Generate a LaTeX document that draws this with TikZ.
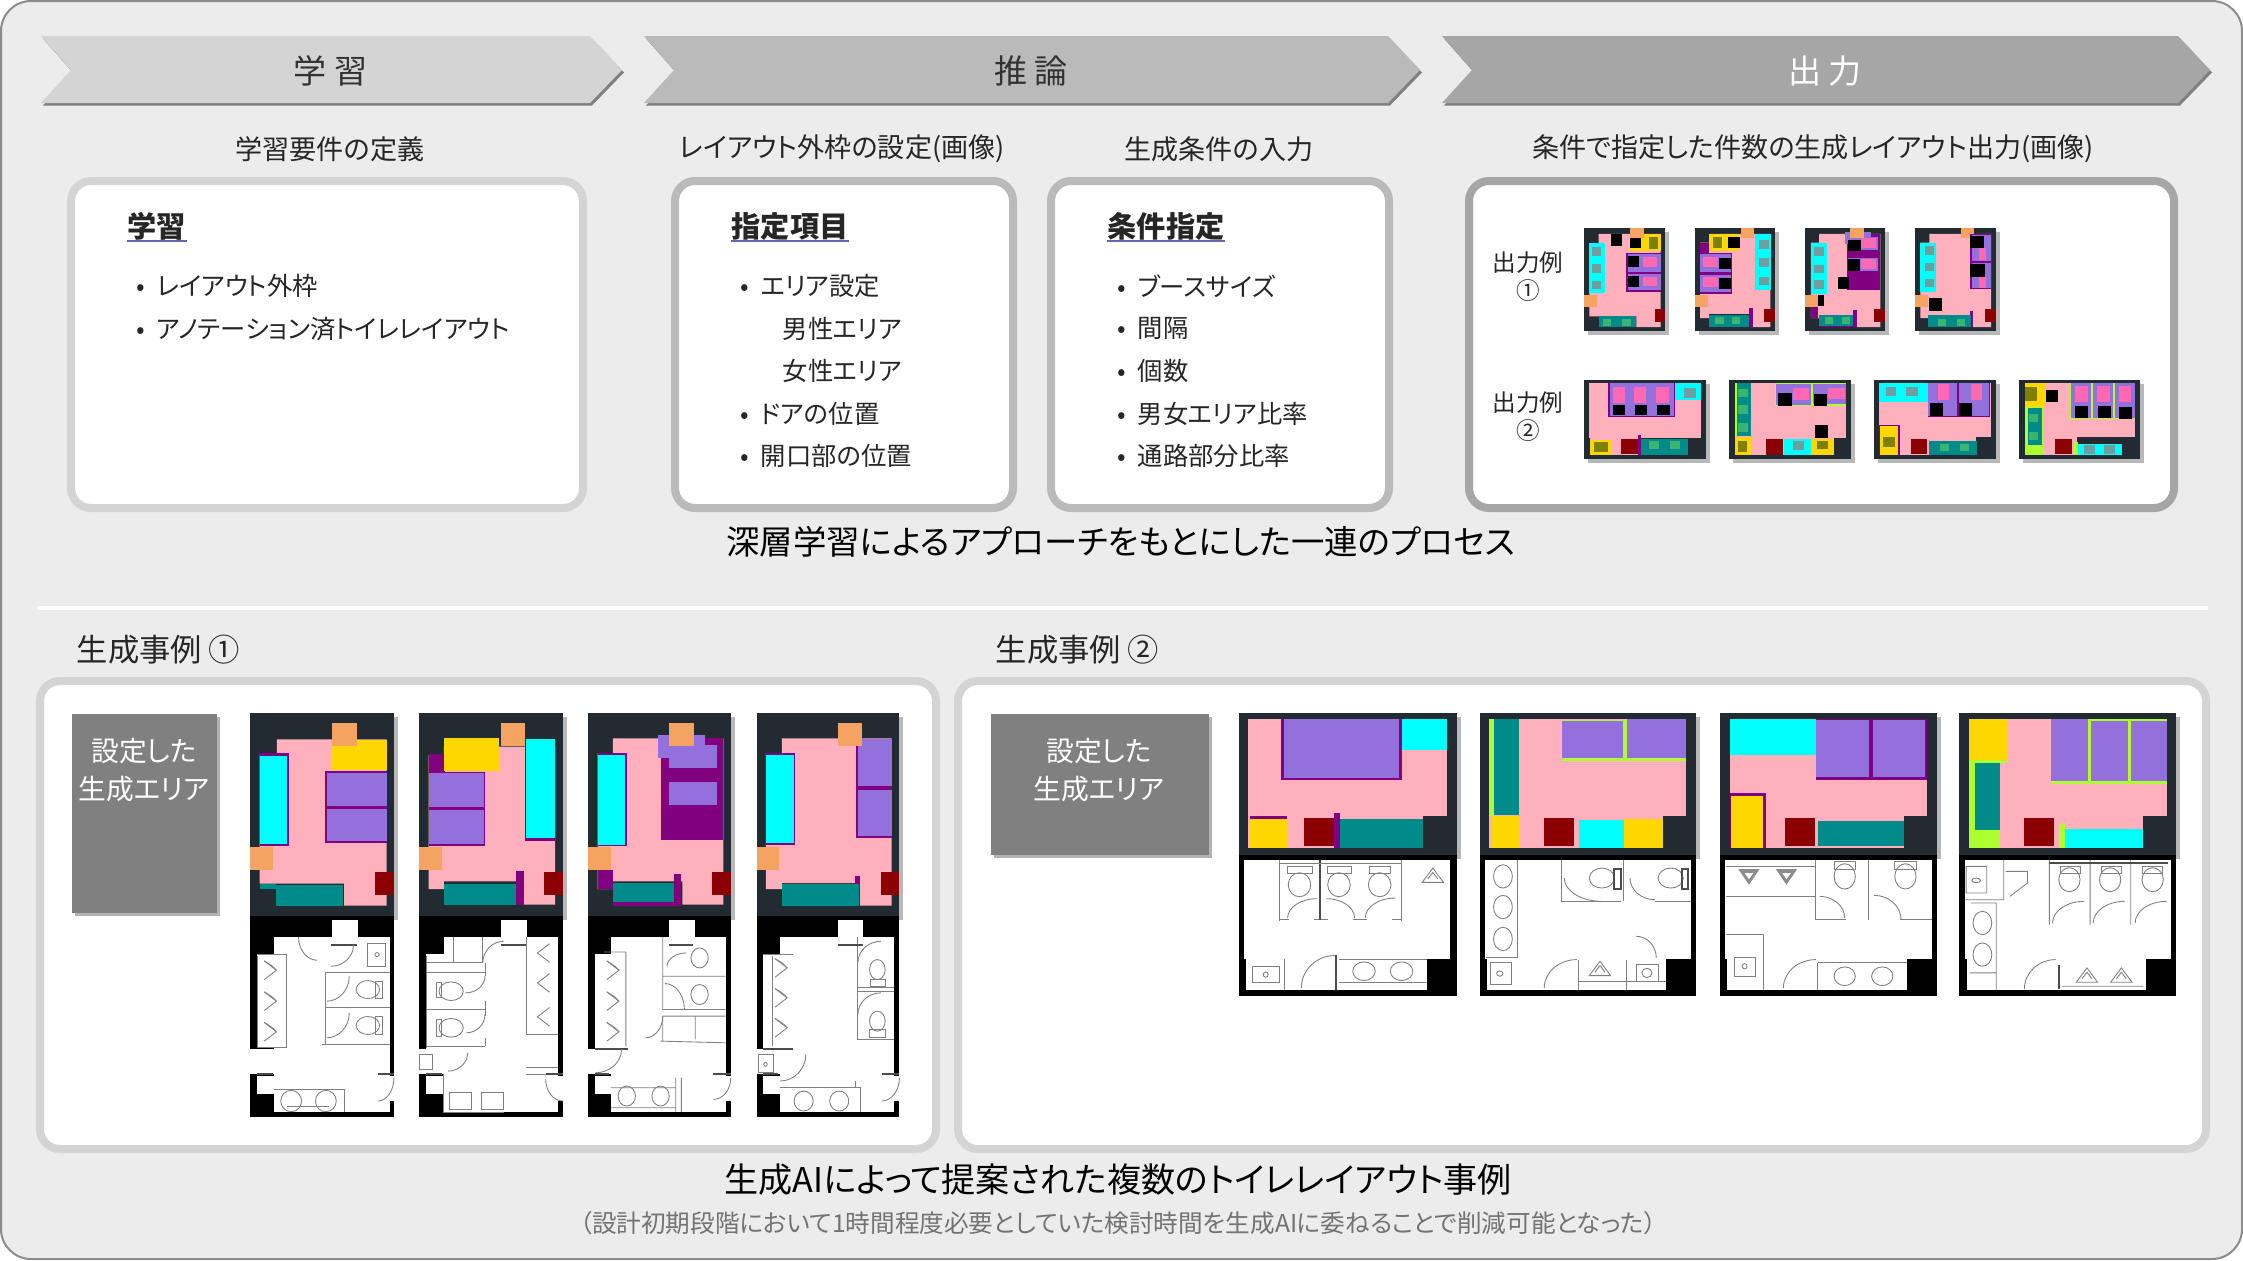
\documentclass[tikz,border=0pt]{standalone}
\usepackage{fontspec}
\usepackage{xcolor}
\usepackage{tikz}
\usetikzlibrary{positioning}
\setmainfont[RawFeature=+palt]{Noto Sans CJK JP}

\definecolor{plate}{HTML}{222A32}
\definecolor{roomPink}{HTML}{FFB0BC}
\definecolor{boothPurple}{HTML}{9370DB}
\definecolor{framePurple}{HTML}{800080}
\definecolor{sinkCyan}{HTML}{00FFFF}
\definecolor{doorOrange}{HTML}{F4A460}
\definecolor{wallRed}{HTML}{8B0000}
\definecolor{basinTeal}{HTML}{008B8B}
\definecolor{lockerGold}{HTML}{FFD700}
\definecolor{edgeLime}{HTML}{ADFF2F}
\definecolor{hotPink}{HTML}{FF69B4}
\definecolor{olive}{HTML}{808000}
\definecolor{squareGrey}{HTML}{6E9EA0}
\definecolor{squareGreen}{HTML}{3CB371}
\definecolor{inkText}{HTML}{262626}

\tikzset{
  caption/.style={font=\fontsize{7.7}{9}\selectfont, text=inkText, inner sep=0pt},
  listitem/.style={font=\fontsize{7.2}{8}\selectfont, text=inkText, inner sep=0pt, anchor=west},
  nextitem/.style={listitem, below=0.4255cm of #1.west, anchor=west},
  outlabel/.style={font=\fontsize{6.7}{8}\selectfont, text=inkText, inner sep=0pt, align=center},
  boxhead/.style={font=\fontsize{8.3}{10}\bfseries\selectfont, text=inkText, inner sep=0pt, anchor=west},
  sectionhead/.style={font=\fontsize{8.9}{11}\selectfont, text=inkText, inner sep=0pt, anchor=west},
  title/.style={font=\fontsize{9.5}{11}\selectfont, text=black, inner sep=0pt},
  panel/.style={draw=#1, line width=0.08cm, fill=white, rounded corners=0.2cm},
  areabox/.style={fill=black!50, anchor=north west, inner sep=0pt},
  arealabel/.style={font=\fontsize{7.9}{11}\selectfont, text=white, align=center, inner sep=0pt},
  planline/.style={draw=black!50, line width=0.25pt},
  planwall/.style={draw=black!70, line width=0.6pt}
}

\newcommand{\lbul}{\makebox[0.2cm][l]{•}}
\newcommand{\blk}[5]{\fill[#1] (#2,#3) rectangle (#4,#5);}
\newcommand{\plat}[5]{%
  \fill[black!28, xshift=0.04cm, yshift=-0.04cm] (#2,#3) rectangle (#4,#5);
  \fill[#1] (#2,#3) rectangle (#4,#5);}
\newcommand{\swing}[4]{\draw[planline] (#1,#2) .. controls (#1,{#2+0.55*(#4-#2)}) and ({#3-0.55*(#3-#1)},#4) .. (#3,#4);}
\newcommand{\bowl}[4]{\draw[planline] (#1,#2) ellipse [x radius=#3, y radius=#4];}
\newcommand{\urinalR}[2]{\draw[planline] (#1-14,#2-28) -- (#1+14,#2) -- (#1-14,#2+28);
  \draw[planline] (#1-14,#2-28) .. controls (#1+4,#2-14) .. (#1+14,#2);}
\newcommand{\urinalL}[2]{\draw[planline] (#1+14,#2-28) -- (#1-14,#2) -- (#1+14,#2+28);}
\newcommand{\urinalU}[2]{\draw[planline] (#1-17,#2+18) -- (#1,#2-25) -- (#1+17,#2+18) -- cycle;
  \draw[planline] (#1-8,#2+8) -- (#1,#2-12) -- (#1+8,#2+8);}
\newcommand{\urinalD}[2]{\fill[black!45] (#1-17,#2-22) -- (#1,#2+25) -- (#1+17,#2-22) -- cycle;
  \fill[white] (#1-7,#2-10) -- (#1,#2+8) -- (#1+7,#2-10) -- cycle;}
\newcommand{\headarrow}[7]{%
  \fill[black!50, xshift=0.02cm, yshift=-0.025cm] (#1,36) -- (#2,36) -- (#3,70) -- (#2,103) -- (#1,103) -- (#1+30,70) -- cycle;
  \fill[#4] (#1,36) -- (#2,36) -- (#3,70) -- (#2,103) -- (#1,103) -- (#1+30,70) -- cycle;
  \node (#5) [font=\fontsize{9.4}{11}\selectfont, text=#6, inner sep=0pt] at ({(#1+#2)/2+15},71) {#7};}

\begin{document}
\begin{tikzpicture}[x=0.01cm, y=-0.01cm]
  \useasboundingbox (0,0) rectangle (2243,1260);
  \draw[fill=black!7.5, draw=black!45, line width=0.02cm, rounded corners=0.3cm] (1,1) rectangle (2242,1259);

  % process headers
  \headarrow{41}{590}{622}{black!17}{headLearn}{black!80}{学 習}
  \headarrow{644}{1388}{1420}{black!27}{headInfer}{black!80}{推 論}
  \headarrow{1442}{2178}{2210}{black!35}{headOut}{white}{出 力}

  \node (capLearn) [caption] at (330,149) {学習要件の定義};
  \node (capFrame) [caption] at (842,149) {レイアウト外枠の設定(画像)};
  \node (capCond) [caption] at (1219,149) {生成条件の入力};
  \node (capOut) [caption] at (1813,149) {条件で指定した件数の生成レイアウト出力(画像)};

  \draw[panel=black!17] (71,181) rectangle (583,508);
  \draw[panel=black!27] (675,181) rectangle (1013,508);
  \draw[panel=black!27] (1051,181) rectangle (1389,508);
  \draw[panel=black!35] (1469,181) rectangle (2174,508);

  % learning list
  \node (headA) [boxhead] at (127,226) {学習};
  \draw[black!50!blue!60, line width=0.02cm] (headA.south west) -- (headA.south east);
  \node (learnA) [listitem] at (136,286) {\lbul レイアウト外枠};
  \node (learnB) [nextitem=learnA] {\lbul アノテーション済トイレレイアウト};

  % frame list
  \node (headB) [boxhead] at (731,226) {指定項目};
  \draw[black!50!blue!60, line width=0.02cm] (headB.south west) -- (headB.south east);
  \node (frameA) [listitem] at (740,286) {\lbul エリア設定};
  \node (frameB) [nextitem=frameA, xshift=0.42cm] {男性エリア};
  \node (frameC) [nextitem=frameB] {女性エリア};
  \node (frameD) [nextitem=frameC, xshift=-0.42cm] {\lbul ドアの位置};
  \node (frameE) [nextitem=frameD] {\lbul 開口部の位置};

  % condition list
  \node (headC) [boxhead] at (1107,226) {条件指定};
  \draw[black!50!blue!60, line width=0.02cm] (headC.south west) -- (headC.south east);
  \node (condA) [listitem] at (1117,286) {\lbul ブースサイズ};
  \node (condB) [nextitem=condA] {\lbul 間隔};
  \node (condC) [nextitem=condB] {\lbul 個数};
  \node (condD) [nextitem=condC] {\lbul 男女エリア比率};
  \node (condE) [nextitem=condD] {\lbul 通路部分比率};

  \node (outA) [outlabel] at (1528,277) {出力例\\①};
  \node (outB) [outlabel] at (1528,417) {出力例\\②};

  % small output plans
  \begin{scope}[shift={(1480,170)}, x=0.00459cm, y=-0.003333cm]
    % row one, plan one
    \plat{plate}{226}{173}{403}{485}
    \fill[roomPink] (258,192) -- (393,192) -- (393,472) -- (340,472) -- (340,440) -- (238,440) -- (238,220) -- (258,220) -- cycle;
    \blk{lockerGold}{325}{192}{393}{243} \blk{olive}{367}{200}{388}{238} \blk{black}{327}{205}{351}{235} \blk{black}{286}{192}{310}{228}
    \blk{doorOrange}{327}{173}{356}{203}
    \blk{framePurple}{318}{248}{393}{367} \blk{boothPurple}{322}{252}{393}{305} \blk{boothPurple}{322}{313}{393}{362}
    \blk{black}{322}{258}{347}{292} \blk{hotPink}{354}{262}{385}{290} \blk{black}{322}{317}{347}{352} \blk{hotPink}{354}{320}{385}{348}
    \blk{sinkCyan}{237}{220}{271}{370} \blk{squareGrey}{243}{232}{263}{258} \blk{squareGrey}{243}{283}{263}{308} \blk{squareGrey}{243}{333}{263}{358}
    \blk{doorOrange}{226}{375}{254}{413} \blk{wallRed}{380}{417}{403}{456}
    \blk{basinTeal}{258}{440}{340}{472} \blk{squareGreen}{268}{448}{285}{468} \blk{squareGreen}{310}{448}{328}{468}
    % row one, plan two
    \plat{plate}{467}{173}{642}{485}
    \fill[roomPink] (500,192) -- (632,192) -- (632,472) -- (590,472) -- (590,432) -- (498,432) -- (498,445) -- (479,445) -- (479,218) -- (500,218) -- cycle;
    \blk{lockerGold}{499}{192}{565}{243} \blk{olive}{506}{200}{526}{233} \blk{black}{540}{200}{565}{235} \blk{doorOrange}{567}{173}{597}{203}
    \blk{framePurple}{479}{218}{499}{248} \blk{framePurple}{479}{248}{549}{372} \blk{boothPurple}{479}{252}{547}{306} \blk{boothPurple}{479}{314}{547}{368}
    \blk{hotPink}{485}{260}{517}{292} \blk{black}{521}{263}{547}{297} \blk{hotPink}{485}{322}{517}{352} \blk{black}{521}{325}{547}{358}
    \blk{sinkCyan}{598}{192}{634}{360} \blk{squareGrey}{608}{210}{628}{236} \blk{squareGrey}{608}{265}{628}{290} \blk{squareGrey}{608}{320}{628}{346}
    \blk{doorOrange}{467}{375}{495}{413} \blk{wallRed}{619}{417}{642}{456}
    \blk{basinTeal}{498}{435}{585}{472} \blk{squareGreen}{512}{442}{530}{463} \blk{squareGreen}{548}{442}{566}{463} \blk{framePurple}{585}{415}{595}{472}
    % row one, plan three
    \plat{plate}{707}{173}{882}{485}
    \fill[roomPink] (738,192) -- (871,192) -- (871,472) -- (820,472) -- (820,435) -- (738,435) -- (738,445) -- (720,445) -- (720,218) -- (738,218) -- cycle;
    \blk{framePurple}{798}{192}{871}{362} \blk{boothPurple}{794}{185}{851}{222} \blk{boothPurple}{800}{200}{865}{240} \blk{boothPurple}{800}{265}{865}{303}
    \blk{hotPink}{829}{205}{862}{235} \blk{hotPink}{829}{268}{862}{298}
    \blk{black}{801}{210}{828}{243} \blk{black}{801}{268}{826}{303} \blk{black}{778}{320}{802}{357} \blk{black}{734}{375}{749}{410}
    \blk{doorOrange}{806}{173}{836}{203}
    \blk{sinkCyan}{720}{218}{755}{372} \blk{squareGrey}{727}{232}{748}{258} \blk{squareGrey}{727}{285}{748}{310} \blk{squareGrey}{727}{332}{748}{357}
    \blk{framePurple}{720}{413}{735}{445} \blk{doorOrange}{707}{375}{735}{413} \blk{wallRed}{858}{417}{882}{456}
    \blk{framePurple}{812}{420}{820}{472} \blk{framePurple}{738}{466}{820}{473}
    \blk{basinTeal}{738}{435}{812}{468} \blk{squareGreen}{750}{442}{768}{463} \blk{squareGreen}{787}{442}{804}{463}
    % row one, plan four
    \plat{plate}{946}{173}{1122}{485}
    \fill[roomPink] (978,192) -- (1112,192) -- (1112,472) -- (1072,472) -- (1072,435) -- (975,435) -- (975,445) -- (958,445) -- (958,218) -- (978,218) -- cycle;
    \blk{doorOrange}{1046}{173}{1075}{203}
    \blk{framePurple}{1066}{192}{1112}{358} \blk{boothPurple}{1070}{195}{1112}{272} \blk{boothPurple}{1070}{278}{1112}{355}
    \blk{black}{1067}{198}{1097}{235} \blk{black}{1067}{282}{1098}{320} \blk{hotPink}{1085}{235}{1102}{270} \blk{hotPink}{1085}{320}{1102}{355}
    \blk{sinkCyan}{957}{218}{992}{368} \blk{squareGrey}{968}{228}{988}{255} \blk{squareGrey}{968}{278}{988}{303} \blk{squareGrey}{968}{328}{988}{353}
    \blk{doorOrange}{946}{375}{974}{413} \blk{black}{977}{385}{1006}{423} \blk{wallRed}{1098}{417}{1122}{456}
    \blk{framePurple}{1066}{423}{1073}{472}
    \blk{basinTeal}{975}{437}{1068}{472} \blk{squareGreen}{997}{448}{1015}{468} \blk{squareGreen}{1038}{448}{1055}{468}
    % row two, plan one
    \plat{plate}{226}{630}{492}{867}
    \blk{roomPink}{238}{640}{480}{805} \blk{roomPink}{240}{805}{350}{855}
    \blk{framePurple}{278}{640}{425}{742} \blk{boothPurple}{282}{640}{422}{738}
    \blk{hotPink}{290}{652}{316}{700} \blk{hotPink}{336}{652}{362}{700} \blk{hotPink}{384}{652}{412}{700}
    \blk{black}{290}{705}{316}{736} \blk{black}{337}{705}{364}{736} \blk{black}{385}{705}{413}{736}
    \blk{sinkCyan}{425}{640}{480}{692} \blk{squareGrey}{444}{654}{470}{684}
    \blk{lockerGold}{240}{810}{285}{857} \blk{olive}{248}{818}{279}{848} \blk{wallRed}{306}{807}{345}{853} \blk{framePurple}{344}{797}{350}{857}
    \blk{basinTeal}{350}{808}{452}{857} \blk{squareGreen}{367}{813}{390}{838} \blk{squareGreen}{413}{813}{436}{838}
    % row two, plan two
    \plat{plate}{542}{630}{808}{867}
    \blk{roomPink}{555}{640}{797}{805} \blk{roomPink}{555}{805}{770}{857}
    \blk{edgeLime}{555}{640}{559}{800} \blk{basinTeal}{559}{640}{590}{800}
    \blk{squareGreen}{562}{657}{583}{683} \blk{squareGreen}{562}{705}{583}{732} \blk{squareGreen}{562}{760}{583}{787}
    \blk{edgeLime}{642}{640}{797}{708} \blk{boothPurple}{645}{642}{720}{705} \blk{boothPurple}{724}{642}{797}{703}
    \blk{hotPink}{680}{655}{715}{690} \blk{hotPink}{757}{655}{795}{688}
    \blk{black}{648}{670}{678}{708} \blk{black}{726}{672}{756}{708} \blk{black}{728}{767}{758}{805}
    \blk{lockerGold}{557}{803}{590}{857} \blk{olive}{562}{815}{581}{848} \blk{wallRed}{623}{807}{660}{855}
    \blk{sinkCyan}{662}{807}{720}{857} \blk{squareGrey}{680}{813}{705}{842} \blk{lockerGold}{720}{807}{770}{857} \blk{olive}{733}{813}{758}{838}
    % row two, plan three
    \plat{plate}{857}{630}{1123}{867}
    \blk{roomPink}{868}{640}{1112}{803} \blk{roomPink}{868}{803}{1080}{855}
    \blk{sinkCyan}{868}{640}{975}{698} \blk{squareGrey}{884}{652}{906}{680} \blk{squareGrey}{928}{652}{952}{680}
    \blk{framePurple}{975}{640}{1110}{742} \blk{boothPurple}{975}{640}{1039}{738} \blk{boothPurple}{1043}{640}{1108}{738}
    \blk{hotPink}{997}{642}{1021}{690} \blk{hotPink}{1068}{642}{1093}{690} \blk{black}{980}{700}{1008}{738} \blk{black}{1042}{700}{1071}{738}
    \blk{framePurple}{868}{765}{914}{857} \blk{lockerGold}{870}{770}{910}{857} \blk{olive}{876}{803}{902}{833} \blk{wallRed}{937}{807}{973}{853}
    \blk{basinTeal}{977}{813}{1082}{857} \blk{squareGreen}{1000}{822}{1020}{845} \blk{squareGreen}{1044}{822}{1065}{845}
    % row two, plan four
    \plat{plate}{1173}{630}{1437}{867}
    \blk{roomPink}{1186}{640}{1425}{803} \blk{roomPink}{1186}{803}{1300}{855}
    \blk{lockerGold}{1186}{640}{1230}{712} \blk{olive}{1186}{652}{1212}{695} \blk{black}{1231}{660}{1258}{697}
    \blk{edgeLime}{1186}{712}{1224}{857} \blk{basinTeal}{1192}{714}{1222}{825} \blk{squareGreen}{1195}{732}{1214}{758} \blk{squareGreen}{1195}{787}{1214}{812}
    \blk{edgeLime}{1283}{640}{1425}{749} \blk{boothPurple}{1285}{640}{1330}{745} \blk{boothPurple}{1334}{640}{1378}{745} \blk{boothPurple}{1382}{640}{1425}{745}
    \blk{hotPink}{1295}{650}{1322}{696} \blk{hotPink}{1343}{650}{1370}{696} \blk{hotPink}{1390}{650}{1416}{696}
    \blk{black}{1295}{710}{1323}{745} \blk{black}{1345}{710}{1373}{745} \blk{black}{1390}{712}{1418}{747}
    \blk{wallRed}{1252}{807}{1288}{853} \blk{edgeLime}{1293}{818}{1302}{857} \blk{sinkCyan}{1302}{823}{1396}{857}
    \blk{squareGrey}{1314}{825}{1338}{852} \blk{squareGrey}{1358}{825}{1382}{852}
  \end{scope}

  % divider
  \draw[white, line width=0.045cm] (37,608) -- (2208,608);
  \node (title) [title] at (1121,542) {深層学習によるアプローチをもとにした一連のプロセス};

  % cases
  \node (caseOne) [sectionhead] at (76,650) {生成事例 ①};
  \node (caseTwo) [sectionhead] at (995,650) {生成事例 ②};
  \draw[panel=black!17] (40,681) rectangle (936,1149);
  \draw[panel=black!17] (958,681) rectangle (2206,1149);

  \fill[black!30, xshift=0.04cm, yshift=-0.04cm] (71,713) rectangle (216,912);
  \node (areaOne) [areabox, minimum width=1.45cm, minimum height=1.99cm] at (71,713) {};
  \node (areaOneText) [arealabel] at (144,770) {設定した\\生成エリア};
  \fill[black!30, xshift=0.04cm, yshift=-0.04cm] (990,713) rectangle (1208,854);
  \node (areaTwo) [areabox, minimum width=2.18cm, minimum height=1.41cm] at (990,713) {};
  \node (areaTwoText) [arealabel] at (1099,770) {設定した\\生成エリア};

  % case one plans
  \begin{scope}[shift={(240,700)}, x=0.004337cm, y=-0.003333cm]
    % plan one
    \plat{plate}{23}{40}{355}{648}
    \fill[roomPink] (85,118) -- (338,118) -- (338,618) -- (240,618) -- (240,552) -- (45,552) -- (45,165) -- (85,165) -- cycle;
    \blk{lockerGold}{210}{120}{338}{210} \blk{doorOrange}{213}{68}{270}{137}
    \blk{framePurple}{196}{212}{338}{430} \blk{boothPurple}{200}{220}{338}{318} \blk{boothPurple}{200}{326}{338}{424}
    \blk{framePurple}{45}{160}{112}{438} \blk{sinkCyan}{45}{168}{108}{433}
    \blk{doorOrange}{23}{443}{77}{512} \blk{wallRed}{312}{517}{355}{587}
    \blk{basinTeal}{45}{552}{83}{568} \blk{basinTeal}{83}{557}{238}{618}
    \blk{black}{23}{648}{355}{1252}
    \blk{white}{78}{712}{345}{1238} \blk{white}{40}{765}{108}{1045} \blk{white}{23}{1050}{78}{1125} \blk{white}{40}{1130}{78}{1185} \blk{white}{212}{662}{272}{712} \blk{white}{315}{1130}{355}{1205}
    \draw[planline] (196,820) -- (345,820) (196,925) -- (345,925) (190,1035) -- (345,1035) (196,820) -- (196,1035) (40,765) -- (108,765) -- (108,1045) (40,770) -- (40,1045) -- (108,1045);
    \draw[planwall] (210,735) -- (270,735) (40,1125) -- (75,1125) (318,1125) -- (355,1125);
    \urinalR{70}{812} \urinalR{70}{905} \urinalR{70}{997}
    \bowl{295}{870}{27}{27} \bowl{295}{978}{27}{27}
    \draw[planline] (312,845) rectangle (328,898) (312,952) rectangle (328,1005) (295,730) rectangle (335,800);
    \bowl{316}{765}{5}{6}
    \swing{252}{830}{200}{905} \swing{252}{940}{200}{1015} \swing{135}{712}{178}{782} \swing{262}{735}{210}{800} \swing{355}{1135}{318}{1205}
    \bowl{118}{1205}{24}{32} \bowl{198}{1205}{24}{32}
    \draw[planline] (78,1170) -- (240,1170) -- (240,1238) (108,1220) -- (205,1220);
    % plan two
    \plat{plate}{413}{40}{745}{648}
    \fill[roomPink] (435,165) -- (470,165) -- (470,140) -- (727,140) -- (727,615) -- (655,615) -- (655,545) -- (470,545) -- (470,568) -- (435,568) -- cycle;
    \blk{framePurple}{435}{163}{472}{215} \blk{lockerGold}{471}{115}{598}{212}
    \blk{framePurple}{435}{215}{566}{440} \blk{boothPurple}{435}{220}{562}{320} \blk{boothPurple}{435}{330}{562}{432}
    \blk{framePurple}{658}{118}{727}{425} \blk{sinkCyan}{660}{118}{727}{415}
    \blk{doorOrange}{602}{68}{658}{137} \blk{doorOrange}{413}{443}{465}{512} \blk{wallRed}{702}{517}{745}{587}
    \blk{framePurple}{636}{515}{655}{615} \blk{basinTeal}{471}{552}{636}{615}
    \blk{black}{413}{648}{745}{1252}
    \blk{white}{470}{712}{733}{1238} \blk{white}{428}{762}{470}{1048} \blk{white}{413}{1050}{470}{1125} \blk{white}{428}{1130}{470}{1185} \blk{white}{602}{662}{662}{712} \blk{white}{705}{1130}{745}{1205}
    \draw[planline] (430,820) -- (565,820) (430,930) -- (565,930) (430,1040) -- (565,1040) (565,790) -- (565,830) (565,905) -- (565,950) (565,1015) -- (565,1040) (430,790) -- (560,790) (492,712) -- (492,790) (560,712) -- (560,790) (660,712) -- (660,1005) -- (733,1005) (660,1105) -- (733,1105) (660,1125) -- (733,1125) (470,1125) -- (470,1238) -- (610,1238) (430,770) -- (430,1045);
    \draw[planwall] (603,735) -- (660,735) (428,1125) -- (465,1125) (705,1125) -- (745,1125);
    \bowl{487}{875}{28}{28} \bowl{487}{985}{28}{28}
    \draw[planline] (452,850) rectangle (464,895) (452,960) rectangle (464,1010) (483,1178) rectangle (533,1230) (556,1178) rectangle (608,1230) (415,1065) rectangle (443,1110);
    \swing{560}{790}{608}{725} \swing{565}{830}{520}{880} \swing{565}{945}{522}{1000} \swing{525}{1060}{480}{1115} \swing{705}{1140}{745}{1205}
    \urinalL{700}{760} \urinalL{700}{850} \urinalL{700}{952}
    % plan three
    \plat{plate}{802}{40}{1132}{648}
    \fill[roomPink] (860,115) -- (1115,115) -- (1115,615) -- (1020,615) -- (1020,545) -- (860,545) -- (860,568) -- (825,568) -- (825,160) -- (860,160) -- cycle;
    \blk{framePurple}{970}{115}{1115}{422} \blk{boothPurple}{965}{105}{1073}{175} \blk{boothPurple}{990}{135}{1100}{205} \blk{boothPurple}{990}{245}{1100}{315}
    \blk{framePurple}{825}{160}{893}{440} \blk{sinkCyan}{826}{165}{889}{435}
    \blk{doorOrange}{990}{68}{1047}{137} \blk{doorOrange}{802}{443}{855}{512} \blk{wallRed}{1088}{517}{1132}{587}
    \blk{framePurple}{825}{512}{860}{568} \blk{framePurple}{860}{607}{1018}{618} \blk{framePurple}{1002}{523}{1018}{618}
    \blk{basinTeal}{860}{550}{1002}{607}
    \blk{black}{802}{648}{1132}{1252}
    \blk{white}{855}{712}{1120}{1238} \blk{white}{818}{762}{855}{1048} \blk{white}{802}{1050}{855}{1125} \blk{white}{818}{1130}{855}{1185} \blk{white}{990}{662}{1050}{712} \blk{white}{1090}{1130}{1132}{1205}
    \draw[planline] (890,757) -- (890,1040) (840,757) -- (890,757) (975,712) -- (975,830) -- (1120,830) (975,930) -- (1120,930) (975,830) -- (975,930) (975,950) -- (1120,950) (1050,950) -- (1050,1020) (970,1025) -- (1120,1030) (975,950) -- (975,1025) (855,1165) -- (1005,1165) (1005,1135) -- (1005,1238) (1018,1135) -- (1018,1238) (855,1225) -- (1005,1225);
    \draw[planwall] (990,735) -- (1045,735) (818,1125) -- (850,1125) (1090,1125) -- (1132,1125) (818,1048) -- (895,1048);
    \urinalR{860}{812} \urinalR{860}{905} \urinalR{860}{997}
    \bowl{1060}{775}{20}{30} \bowl{1060}{885}{20}{30}
    \swing{1025}{930}{980}{852} \swing{975}{950}{935}{1015} \swing{880}{1050}{820}{1120} \swing{1132}{1135}{1092}{1200} \swing{985}{800}{1030}{760}
    \bowl{892}{1190}{20}{30} \bowl{970}{1190}{20}{30}
    % plan four
    \plat{plate}{1192}{40}{1521}{648}
    \fill[roomPink] (1250,115) -- (1503,115) -- (1503,618) -- (1430,618) -- (1430,550) -- (1250,550) -- (1250,568) -- (1213,568) -- (1213,160) -- (1250,160) -- cycle;
    \blk{framePurple}{1421}{118}{1503}{414} \blk{boothPurple}{1425}{118}{1503}{258} \blk{boothPurple}{1425}{270}{1503}{410}
    \blk{framePurple}{1213}{160}{1280}{436} \blk{sinkCyan}{1213}{165}{1278}{430}
    \blk{doorOrange}{1379}{68}{1435}{137} \blk{doorOrange}{1192}{443}{1244}{512} \blk{wallRed}{1478}{517}{1521}{587}
    \blk{framePurple}{1418}{528}{1430}{618} \blk{basinTeal}{1251}{553}{1428}{618}
    \blk{black}{1192}{648}{1521}{1252}
    \blk{white}{1245}{712}{1508}{1238} \blk{white}{1207}{762}{1245}{1048} \blk{white}{1192}{1050}{1245}{1125} \blk{white}{1207}{1130}{1245}{1185} \blk{white}{1380}{662}{1438}{712} \blk{white}{1480}{1130}{1521}{1205}
    \draw[planline] (1228,770) -- (1228,1040) (1207,765) -- (1275,765) (1425,712) -- (1425,1020) -- (1508,1020) (1425,865) -- (1508,865) (1425,875) -- (1508,875) (1245,1165) -- (1432,1165) -- (1432,1238) (1420,1145) -- (1420,1165);
    \draw[planwall] (1380,735) -- (1438,735) (1207,1125) -- (1240,1125) (1480,1125) -- (1521,1125) (1207,1048) -- (1275,1048);
    \urinalR{1248}{805} \urinalR{1248}{895} \urinalR{1248}{985}
    \bowl{1470}{810}{18}{30} \bowl{1470}{965}{18}{30}
    \draw[planline] (1455,840) rectangle (1488,860) (1452,990) rectangle (1488,1015) (1195,1065) rectangle (1230,1120);
    \swing{1425}{790}{1478}{725} \swing{1425}{945}{1478}{880} \swing{1305}{1065}{1245}{1145} \swing{1521}{1135}{1480}{1205}
    \bowl{1300}{1205}{22}{30} \bowl{1382}{1205}{22}{30} \bowl{1212}{1095}{4}{6}
  \end{scope}

  % case two plans
  \begin{scope}[shift={(1220,700)}, x=0.00625cm, y=-0.003333cm]
    % plan one
    \plat{plate}{30}{40}{378}{465}
    \blk{roomPink}{45}{57}{362}{350} \blk{roomPink}{45}{350}{325}{445}
    \blk{sinkCyan}{290}{57}{362}{150} \blk{framePurple}{97}{57}{290}{240} \blk{boothPurple}{102}{57}{286}{234}
    \blk{framePurple}{48}{350}{107}{358} \blk{lockerGold}{48}{358}{107}{445} \blk{wallRed}{134}{354}{184}{438}
    \blk{framePurple}{182}{338}{191}{445} \blk{basinTeal}{191}{358}{325}{445}
    \blk{black}{30}{465}{378}{888}
    \blk{white}{38}{480}{368}{778} \blk{white}{42}{778}{330}{872}
    \draw[planline] (95,480) -- (95,665) (290,480) -- (290,665) (95,660) -- (110,660) (150,660) -- (172,660) (212,660) -- (235,660) (275,660) -- (290,660) (190,780) -- (330,780) (190,850) -- (330,850) (103,778) -- (103,872) (52,800) rectangle (95,850);
    \draw[planwall] (160,480) -- (160,660) (185,765) -- (185,870);
    \draw[planline] (108,500) rectangle (148,520) (172,500) rectangle (210,520) (238,500) rectangle (272,520) (95,492) -- (290,492);
    \bowl{127}{555}{18}{36} \bowl{190}{555}{18}{36} \bowl{255}{555}{18}{36}
    \swing{108}{655}{155}{597} \swing{215}{655}{170}{597} \swing{232}{655}{280}{595} \swing{130}{865}{183}{768}
    \urinalU{340}{530}
    \bowl{230}{815}{18}{28} \bowl{290}{815}{18}{28} \bowl{73}{825}{4}{8}
    % plan two
    \plat{plate}{415}{40}{761}{465}
    \blk{roomPink}{430}{57}{745}{350} \blk{roomPink}{430}{350}{708}{445}
    \blk{edgeLime}{430}{57}{437}{350} \blk{basinTeal}{437}{57}{478}{345}
    \blk{edgeLime}{545}{60}{745}{182} \blk{boothPurple}{547}{64}{643}{175} \blk{boothPurple}{650}{57}{745}{175}
    \blk{lockerGold}{433}{348}{478}{445} \blk{wallRed}{518}{354}{566}{438} \blk{sinkCyan}{573}{360}{645}{445} \blk{lockerGold}{645}{358}{708}{445}
    \blk{black}{415}{465}{761}{888}
    \blk{white}{423}{480}{752}{778} \blk{white}{427}{778}{712}{872}
    \draw[planline] (475,480) -- (475,775) -- (425,775) (545,480) -- (545,605) -- (640,605) (645,480) -- (645,605) (695,605) -- (752,605) (432,790) rectangle (465,855) (665,795) rectangle (700,845) (572,780) -- (572,870) (650,780) -- (650,870) (572,845) -- (712,845);
    \bowl{452}{530}{15}{35} \bowl{452}{622}{15}{35} \bowl{452}{718}{15}{35}
    \bowl{610}{535}{20}{30} \bowl{720}{535}{20}{30}
    \draw[planwall] (630,508) rectangle (640,568) (738,508) rectangle (748,568);
    \swing{550}{535}{610}{605} \swing{655}{535}{695}{600} \swing{518}{865}{570}{780} \swing{697}{775}{665}{710}
    \urinalU{607}{810} \bowl{682}{820}{8}{14} \bowl{447}{822}{5}{8}
    % plan three
    \plat{plate}{798}{40}{1146}{465}
    \blk{roomPink}{814}{57}{1130}{350} \blk{roomPink}{814}{350}{1092}{445}
    \blk{sinkCyan}{814}{57}{952}{165} \blk{framePurple}{952}{57}{1130}{240} \blk{boothPurple}{952}{60}{1036}{232} \blk{boothPurple}{1043}{60}{1127}{232}
    \blk{framePurple}{814}{278}{873}{445} \blk{lockerGold}{816}{287}{868}{445} \blk{wallRed}{902}{354}{950}{438} \blk{basinTeal}{956}{365}{1092}{440}
    \blk{black}{798}{465}{1146}{888}
    \blk{white}{806}{480}{1137}{778} \blk{white}{810}{778}{1097}{872}
    \draw[planline] (808,590) -- (950,590) (808,500) -- (950,500) (952,480) -- (952,660) -- (1000,660) (1036,480) -- (1036,660) (1086,660) -- (1137,660) (808,705) -- (868,705) -- (868,872) (822,775) rectangle (855,830) (955,790) -- (1097,790) (955,790) -- (955,872);
    \bowl{998}{530}{17}{38} \bowl{1095}{530}{17}{38}
    \draw[planline] (982,485) rectangle (1015,510) (1078,485) rectangle (1112,510);
    \swing{998}{655}{958}{590} \swing{1088}{660}{1045}{587} \swing{900}{865}{952}{780}
    \urinalD{845}{530} \urinalD{905}{530}
    \bowl{998}{830}{17}{28} \bowl{1058}{830}{17}{28} \bowl{838}{800}{4}{8}
    % plan four
    \plat{plate}{1180}{40}{1528}{465}
    \blk{roomPink}{1197}{57}{1513}{350} \blk{roomPink}{1197}{350}{1475}{445}
    \blk{lockerGold}{1197}{57}{1257}{180} \blk{edgeLime}{1197}{180}{1257}{190} \blk{edgeLime}{1197}{190}{1206}{390} \blk{basinTeal}{1206}{190}{1246}{390} \blk{edgeLime}{1197}{390}{1246}{445}
    \blk{edgeLime}{1328}{57}{1513}{252} \blk{boothPurple}{1328}{57}{1387}{242} \blk{boothPurple}{1392}{62}{1450}{242} \blk{boothPurple}{1455}{62}{1513}{242}
    \blk{wallRed}{1285}{354}{1333}{438} \blk{edgeLime}{1340}{372}{1350}{445} \blk{sinkCyan}{1350}{387}{1475}{445}
    \blk{black}{1180}{465}{1528}{888}
    \blk{white}{1190}{480}{1520}{778} \blk{white}{1193}{778}{1480}{872}
    \draw[planline] (1192,500) rectangle (1225,580) (1190,600) -- (1252,600) -- (1252,480) (1200,610) -- (1240,610) -- (1240,820) -- (1198,820) (1240,820) -- (1240,872) (1325,480) -- (1325,675) (1390,480) -- (1390,675) (1455,480) -- (1455,675) (1345,860) -- (1475,860) (1255,515) -- (1290,515) -- (1290,550) -- (1262,590);
    \draw[planwall] (1340,795) -- (1340,868) (1325,490) -- (1515,490);
    \bowl{1218}{670}{15}{35} \bowl{1218}{765}{15}{35}
    \bowl{1357}{540}{17}{36} \bowl{1422}{540}{17}{36} \bowl{1490}{540}{17}{36}
    \draw[planline] (1342,500) rectangle (1375,522) (1408,500) rectangle (1440,522) (1474,500) rectangle (1506,522);
    \swing{1330}{670}{1380}{605} \swing{1395}{670}{1445}{605} \swing{1462}{670}{1512}{605} \swing{1285}{868}{1335}{780}
    \urinalU{1385}{830} \urinalU{1440}{830} \bowl{1208}{542}{7}{7}
  \end{scope}

  \node (titleB) [title, font=\fontsize{9.7}{11}\selectfont] at (1118,1180) {生成AIによって提案された複数のトイレレイアウト事例};
  \node (note) [font=\fontsize{7}{8}\selectfont, text=black!55, inner sep=0pt] at (1118,1223) {（設計初期段階において1時間程度必要としていた検討時間を生成AIに委ねることで削減可能となった）};
\end{tikzpicture}
\end{document}
